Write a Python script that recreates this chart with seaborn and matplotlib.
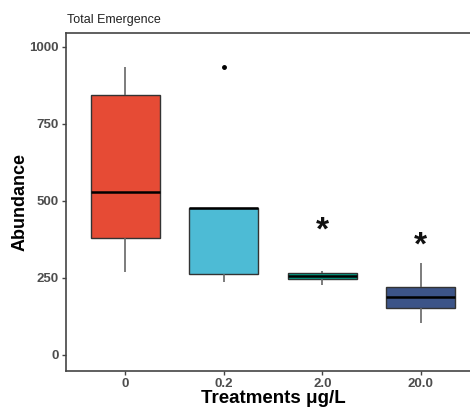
import matplotlib
matplotlib.use("Agg")
import matplotlib.pyplot as plt
import seaborn as sns
import pandas as pd

sns.set_style("white")
plt.rcParams['font.family'] = ['Liberation Sans', 'DejaVu Sans']

# Data
treatments = ["0", "0.2", "2.0", "20.0"]
vals_0 = [269, 380, 529, 844, 935]
vals_02 = [237, 263, 477, 477, 935]
vals_2 = [227, 246, 256, 267, 273]
vals_20 = [104, 153, 188, 221, 299]
colors = ["#E64B35", "#4DBBD5", "#00A087", "#3C5488"]
sig_labels = ["", "", "*", "*"]
sig_y = [0, 0, 428, 380]
yticks = [0, 250, 500, 750, 1000]

rows = []
for t, vs in zip(treatments, [vals_0, vals_02, vals_2, vals_20]):
    for v in vs:
        rows.append({"Treatment": t, "Abundance": v})
df = pd.DataFrame(rows)

fig = plt.figure(figsize=(4.70, 4.08), dpi=100)
ax = fig.add_axes([66 / 470, 37 / 408, (480 - 66) / 470, 338 / 408])

sns.boxplot(data=df, x="Treatment", y="Abundance", hue="Treatment",
            order=treatments, hue_order=treatments, palette=colors,
            width=0.7, dodge=False, legend=False, ax=ax, saturation=1,
            linewidth=1.0, whis=1.5,
            boxprops=dict(edgecolor="#333333"),
            whiskerprops=dict(color="#666666", linewidth=1.2),
            capprops=dict(linewidth=0),
            medianprops=dict(color="black", linewidth=1.8),
            flierprops=dict(marker="o", markerfacecolor="black",
                            markeredgecolor="black", markersize=2.5))

# asterisk glyph sits high in its box: offset it down to centre on sig_y
for i, (lab, yv) in enumerate(zip(sig_labels, sig_y)):
    if lab:
        ax.annotate(lab, xy=(i, yv), xytext=(0, -6),
                    textcoords="offset points", ha="center", va="center",
                    fontsize=24, fontweight="bold", color="#111111")

ax.set_xlim(-0.6, 3.6)
ax.set_ylim(-52, 1045)
ax.set_yticks(yticks)
ax.set_yticklabels([str(v) for v in yticks])

for s in ["left", "bottom", "top", "right"]:
    ax.spines[s].set_visible(True)
    ax.spines[s].set_color("#444444")
    ax.spines[s].set_linewidth(1.2)

ax.tick_params(axis="both", which="both", length=3, width=1,
               color="#444444", labelsize=9.5, labelcolor="#4D4D4D",
               left=True, bottom=True, pad=2)
for lbl in ax.get_xticklabels() + ax.get_yticklabels():
    lbl.set_fontweight("bold")

ax.set_xlabel("Treatments μg/L", fontsize=13.5, fontweight="bold",
              color="black", labelpad=0)
ax.set_ylabel("Abundance", fontsize=13, fontweight="bold",
              color="black", labelpad=1)
ax.grid(False)

fig.text(67 / 470, 1 - 20 / 408, "Total Emergence", fontsize=9,
         ha="left", va="center", color="#222222")

fig.savefig("out.png", dpi=100)
